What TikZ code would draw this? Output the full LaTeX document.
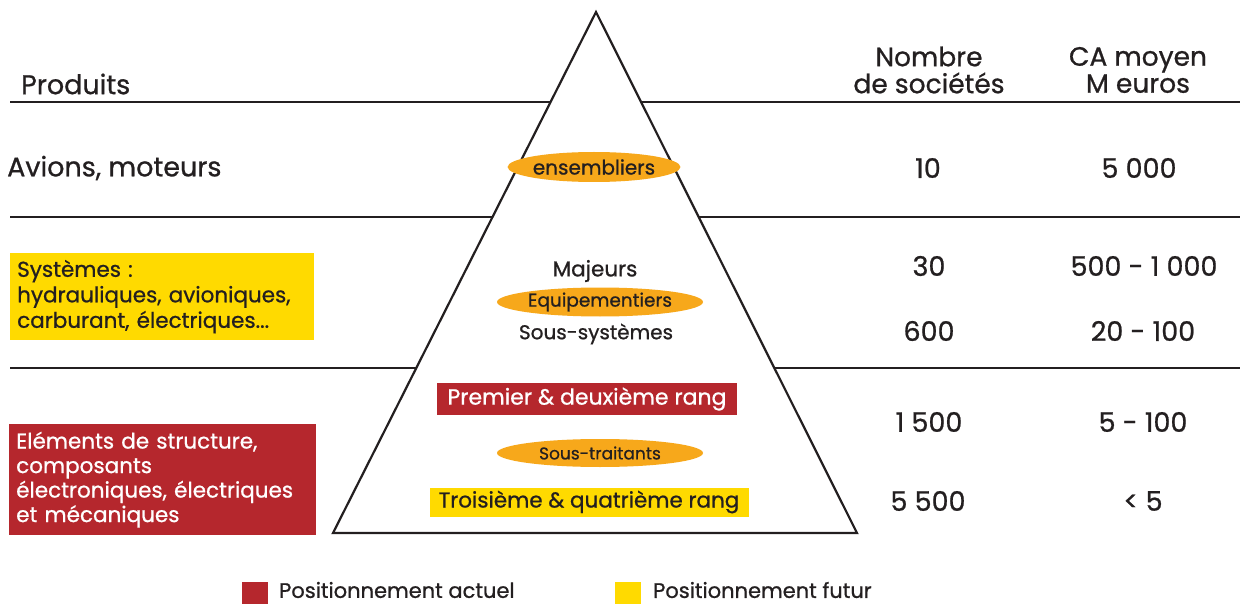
\documentclass[tikz,border=0pt]{standalone}
\usepackage{fontspec}
\setmainfont{Poppins}[FakeBold=0.8]
\usetikzlibrary{shapes.geometric}
\definecolor{cred}{HTML}{B5272D}
\definecolor{cyel}{HTML}{FFDA00}
\definecolor{corg}{HTML}{F7A81B}
\definecolor{ctxt}{HTML}{231F20}
\begin{document}
\begin{tikzpicture}[x=1pt,y=-1pt,
  every node/.style={inner sep=0pt, text=ctxt},
  big/.style={font=\fontsize{27}{30}\selectfont},
  mid/.style={font=\fontsize{21.5}{26}\selectfont},
  small/.style={font=\fontsize{18}{20}\selectfont},
  rule/.style={line width=2.2pt, ctxt},
  oval/.style={ellipse, fill=corg, minimum width=166pt, minimum height=30pt, inner sep=0pt}
]
\useasboundingbox (0,0) rectangle (1240,604);
% rules
\coordinate (r1a) at (10,102); \coordinate (r1b) at (1240,102);
\coordinate (r2a) at (10,217); \coordinate (r2b) at (1240,217);
\coordinate (r3a) at (10,368); \coordinate (r3b) at (1240,368);
\draw[rule] (r1a) -- (r1b);
\draw[rule] (r2a) -- (r2b);
\draw[rule] (r3a) -- (r3b);
% pyramid
\coordinate (apex) at (596,12);
\coordinate (bl) at (333,533);
\coordinate (br) at (857,533);
\fill[white] (apex) -- (br) -- (bl) -- cycle;
\draw[rule, line join=miter] (apex) -- (br) -- (bl) -- cycle;
% headers
\node[big, anchor=west] (prod) at (21,84) {Produits};
\node[align=center, font=\fontsize{26.5}{27}\selectfont] (nb) at (929,70) {Nombre\\de sociétés};
\node[align=center, font=\fontsize{26.5}{27}\selectfont] (ca) at (1138,70) {CA moyen\\M euros};
% row 1
\node[big, anchor=west] (avions) at (7,168) {Avions, moteurs};
\node[oval, font=\fontsize{20}{24}\selectfont] (ens) at (594,167) {ensembliers};
\node[big] (n1) at (928,168) {10};
\node[big] (c1) at (1139,168) {5 000};
% row 2
\node[fill=cyel, anchor=north west, minimum width=304pt, minimum height=87pt, text width=290pt, align=left, inner xsep=7pt, font=\fontsize{21.5}{25.5}\selectfont] (sys) at (10,253) {Systèmes :\\hydrauliques, avioniques,\\carburant, électriques...};
\node[font=\fontsize{21.5}{24}\selectfont] (maj) at (595,271) {Majeurs};
\node[oval, minimum width=206pt, minimum height=29pt, font=\fontsize{18.5}{22}\selectfont] (equip) at (600,302) {Equipementiers};
\node[font=\fontsize{20}{24}\selectfont] (sous) at (596,334) {Sous-systèmes};
\node[big] (n2) at (929,266) {30};
\node[big] (c2) at (1144,266) {500 - 1 000};
\node[big] (n3) at (929,331) {600};
\node[big] (c3) at (1143,331) {20 - 100};
% row 3
\node[fill=cred, anchor=north west, minimum width=307pt, minimum height=111pt, text width=293pt, align=left, inner xsep=7pt, text=white, font=\fontsize{21.5}{24.5}\selectfont] (elem) at (9,424) {Eléments de structure,\\composants\\électroniques, électriques\\et mécaniques};
\node[fill=cred, text=white, minimum width=300pt, minimum height=32pt, font=\fontsize{22}{24}\selectfont] (prem) at (587,399) {Premier \& deuxième rang};
\node[oval, minimum width=206pt, minimum height=28pt, font=\fontsize{17}{20}\selectfont] (st) at (600,453) {Sous-traitants};
\node[fill=cyel, minimum width=319pt, minimum height=29pt, font=\fontsize{21.5}{24}\selectfont] (trois) at (589,502) {Troisième \& quatrième rang};
\node[big] (n4) at (929,422) {1 500};
\node[big] (c4) at (1143,422) {5 - 100};
\node[big] (n5) at (928,501) {5 500};
\node[big] (c5) at (1143,501) {< 5};
% legend
\node[fill=cred, minimum width=26pt, minimum height=22pt, anchor=north west] (lr) at (242,582) {};
\node[anchor=west, font=\fontsize{21}{24}\selectfont] (lrt) at (279,590) {Positionnement actuel};
\node[fill=cyel, minimum width=26pt, minimum height=22pt, anchor=north west] (ly) at (615,582) {};
\node[anchor=west, font=\fontsize{21}{24}\selectfont] (lyt) at (653,590) {Positionnement futur};
\end{tikzpicture}
\end{document}
